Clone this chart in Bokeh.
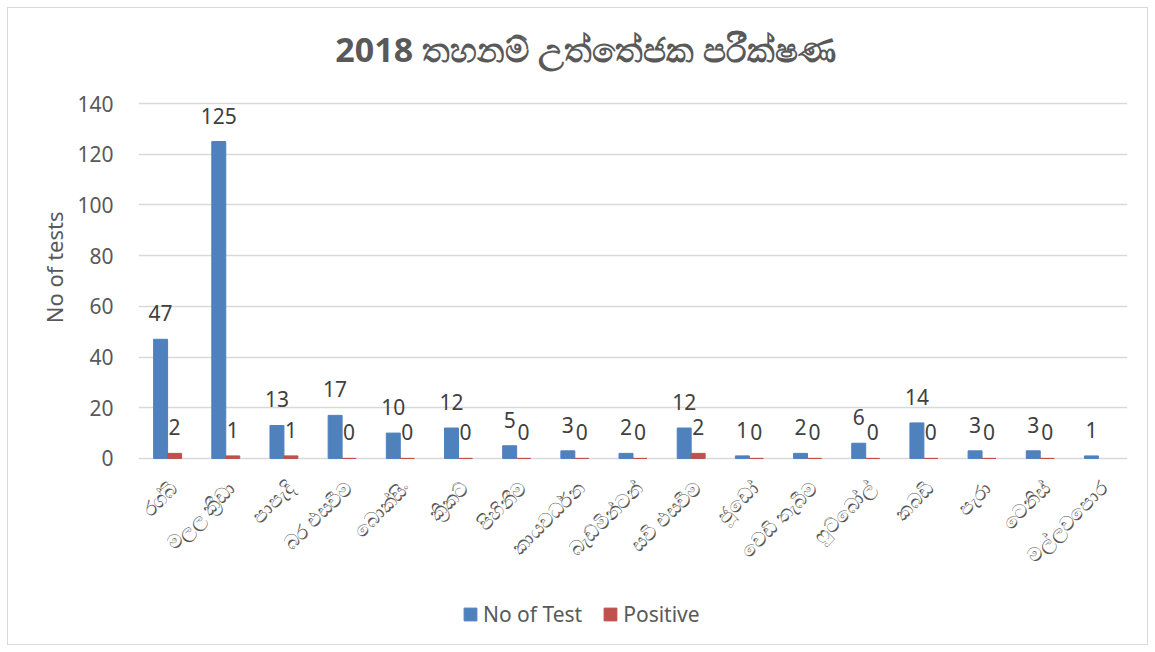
import math
from bokeh.plotting import figure
from bokeh.models import (ColumnDataSource, FactorRange, LabelSet, Label, Legend, LegendItem,
                          Range1d, Title, FixedTicker)
from bokeh.core.properties import value
from bokeh.transform import dodge
from bokeh.embed import file_html
from bokeh.resources import INLINE

categories = ["රග්බි", "මලල ක්‍රීඩා", "පාපැදි", "බර එසවීම", "බොක්සිං", "ක්‍රිකට්",
              "පිහිනීම", "කායවර්ධන", "බැඩ්මින්ටන්", "සවි එසවීම", "ජූඩෝ", "වෙඩි තැබීම",
              "ෆුට්බෝල්", "කබඩි", "පැරා", "ටෙනිස්", "මල්ලවපොර"]
no_of_test = [47, 125, 13, 17, 10, 12, 5, 3, 2, 12, 1, 2, 6, 14, 3, 3, 1]
positive = [2, 1, 1, 0, 0, 0, 0, 0, 0, 2, 0, 0, 0, 0, 0, 0, None]
y_ticks = [0, 20, 40, 60, 80, 100, 120, 140]
chart_title = "2018 තහනම් උත්තේජක පරීක්ෂණ"

BLUE = "#4F81BD"
RED = "#C0504D"
TXT = "#595959"
LBL = "#404040"
FONT = "Noto Sans"

src = ColumnDataSource(dict(
    cat=categories,
    zero=[0] * len(categories),
    t=no_of_test,
    p=[v if v is not None else float("nan") for v in positive],
    tl=[str(v) for v in no_of_test],
    pl=[str(v) if v is not None else "" for v in positive],
))

# frame extends above the top tick and below zero so that title, category labels
# and legend all sit inside it
Y_MIN = -73.0
Y_MAX = 176.3
p = figure(width=1141, height=638, x_range=FactorRange(*categories), y_range=Range1d(Y_MIN, Y_MAX),
           output_backend="svg", toolbar_location=None,
           min_border_left=130, min_border_right=22, min_border_top=3, min_border_bottom=3)
p.styles = {"margin": "7px", "border": "1px solid #D9D9D9"}

p.add_layout(Label(x=447, y=595, x_units="screen", y_units="screen", text=chart_title,
                   text_align="center", text_baseline="middle", text_font_size="34px",
                   text_font=FONT, text_color=TXT, text_font_style="bold"))

W = 0.24
r1 = p.vbar(x=dodge("cat", -0.12, range=p.x_range), top="t", width=W, source=src, color=BLUE)
r2 = p.vbar(x=dodge("cat", 0.12, range=p.x_range), top="p", width=W, source=src, color=RED)

p.add_layout(LabelSet(x=dodge("cat", -0.12, range=p.x_range), y="t", text="tl", source=src,
                      y_offset=26, text_align="center", text_baseline="middle",
                      text_font_size="21px", text_color=LBL, text_font=value(FONT)))
p.add_layout(LabelSet(x=dodge("cat", 0.12, range=p.x_range), y="p", text="pl", source=src,
                      y_offset=26, text_align="center", text_baseline="middle",
                      text_font_size="21px", text_color=LBL, text_font=value(FONT)))

# category labels, rotated 45 degrees, ending at each category's centre
p.add_layout(LabelSet(x="cat", y="zero", text="cat", source=src, angle=math.pi / 4,
                      x_offset=6, y_offset=-26, text_align="right", text_baseline="middle",
                      text_font_size="20px", text_color=TXT, text_font=value(FONT)))

p.xgrid.grid_line_color = None
p.ygrid.grid_line_color = "#D9D9D9"
p.ygrid.grid_line_width = 1.5
p.outline_line_color = None
p.xaxis.visible = False

p.yaxis.ticker = FixedTicker(ticks=y_ticks)
p.yaxis.axis_line_color = None
p.yaxis.major_tick_line_color = None
p.yaxis.minor_tick_line_color = None
p.yaxis.major_label_standoff = 19
p.yaxis.major_label_text_font_size = "21px"
p.yaxis.major_label_text_color = TXT
p.yaxis.major_label_text_font = FONT

ylab = Title(text="No of tests", align="right", offset=200, text_font_size="22px",
             text_font=FONT, text_color=TXT, text_font_style="normal", standoff=12)
p.add_layout(ylab, "left")

legend = Legend(items=[LegendItem(label="No of Test", renderers=[r1]),
                       LegendItem(label="Positive", renderers=[r2])],
                orientation="horizontal", location=(324, 15),
                label_text_font_size="21px", label_text_color=TXT, label_text_font=FONT,
                glyph_width=16, glyph_height=16, spacing=20, border_line_color=None,
                background_fill_alpha=0, margin=0, padding=6)
p.add_layout(legend, "center")

open("out.html", "w").write(file_html(p, INLINE))
